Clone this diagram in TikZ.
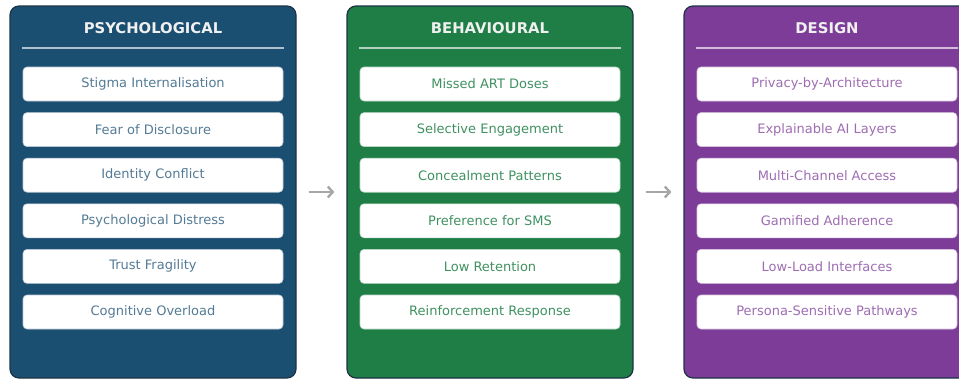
\documentclass[tikz,border=0pt]{standalone}
\usepackage{fontspec}
\setmainfont{DejaVu Sans}
\usepackage{xcolor}
\usepackage{tikz}
\usetikzlibrary{arrows.meta}
\usetikzlibrary{calc}
\usetikzlibrary{positioning}

\definecolor{psyblue}{HTML}{1B4F72}
\definecolor{behgreen}{HTML}{1E7E45}
\definecolor{despurple}{HTML}{7D3C98}
\definecolor{panelrim}{HTML}{1C3446}
\definecolor{flowgrey}{HTML}{A6A6A6}

\begin{document}
\begin{tikzpicture}[x=1pt,y=-1pt,node distance=45.6pt,semithick]
 \tikzstyle{panel}=[draw=panelrim, line width=1.2pt, rounded corners=9pt, minimum width=286pt, minimum height=372pt]
 \tikzstyle{head}=[text=white!94!black, font=\bfseries\fontsize{14.8}{16}\selectfont]
 \tikzstyle{item}=[fill=white, rounded corners=4pt, minimum width=260pt, minimum height=34pt, font=\fontsize{13}{14}\selectfont]
 \tikzstyle{flow}=[draw=flowgrey, line width=2.4pt, -{Straight Barb[length=5pt,width=11pt]}, shorten <=12pt, shorten >=12pt]
 \useasboundingbox (0,0) rectangle (959,380);
 % panels
 \node[panel, fill=psyblue] (P) at (153,192) {};
 \node[panel, fill=behgreen] (B) at (490,192) {};
 \node[panel, fill=despurple] (D) at (827,192) {};
 % headers
 \node[head] (Ph) at (153,28) {PSYCHOLOGICAL};
 \node[head] (Bh) at (490,28) {BEHAVIOURAL};
 \node[head] (Dh) at (827,28) {DESIGN};
 \draw[white!65!psyblue, line width=1.3pt] (22,48) -- (284,48);
 \draw[white!65!behgreen, line width=1.3pt] (359,48) -- (621,48);
 \draw[white!65!despurple, line width=1.3pt] (696,48) -- (958,48);
 % psychological
 \node[item, draw=white!70!psyblue, text=psyblue!75!white] (P1) at (153,84) {Stigma Internalisation};
 \node[item, draw=white!70!psyblue, text=psyblue!75!white] (P2) [below of=P1] {Fear of Disclosure};
 \node[item, draw=white!70!psyblue, text=psyblue!75!white] (P3) [below of=P2] {Identity Conflict};
 \node[item, draw=white!70!psyblue, text=psyblue!75!white] (P4) [below of=P3] {Psychological Distress};
 \node[item, draw=white!70!psyblue, text=psyblue!75!white] (P5) [below of=P4] {Trust Fragility};
 \node[item, draw=white!70!psyblue, text=psyblue!75!white] (P6) [below of=P5] {Cognitive Overload};
 % behavioural
 \node[item, draw=white!70!behgreen, text=behgreen!85!white] (B1) at (490,84) {Missed ART Doses};
 \node[item, draw=white!70!behgreen, text=behgreen!85!white] (B2) [below of=B1] {Selective Engagement};
 \node[item, draw=white!70!behgreen, text=behgreen!85!white] (B3) [below of=B2] {Concealment Patterns};
 \node[item, draw=white!70!behgreen, text=behgreen!85!white] (B4) [below of=B3] {Preference for SMS};
 \node[item, draw=white!70!behgreen, text=behgreen!85!white] (B5) [below of=B4] {Low Retention};
 \node[item, draw=white!70!behgreen, text=behgreen!85!white] (B6) [below of=B5] {Reinforcement Response};
 % design
 \node[item, draw=white!70!despurple, text=despurple!75!white] (D1) at (827,84) {Privacy-by-Architecture};
 \node[item, draw=white!70!despurple, text=despurple!75!white] (D2) [below of=D1] {Explainable AI Layers};
 \node[item, draw=white!70!despurple, text=despurple!75!white] (D3) [below of=D2] {Multi-Channel Access};
 \node[item, draw=white!70!despurple, text=despurple!75!white] (D4) [below of=D3] {Gamified Adherence};
 \node[item, draw=white!70!despurple, text=despurple!75!white] (D5) [below of=D4] {Low-Load Interfaces};
 \node[item, draw=white!70!despurple, text=despurple!75!white] (D6) [below of=D5] {Persona-Sensitive Pathways};
 % flow arrows
 \draw[flow] (P.east) -- (B.west);
 \draw[flow] (B.east) -- (D.west);
\end{tikzpicture}
\end{document}
